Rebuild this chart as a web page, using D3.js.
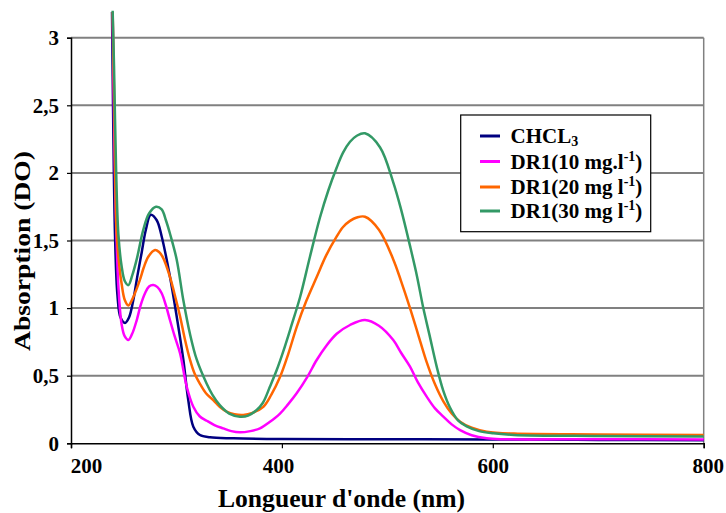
<!DOCTYPE html>
<html><head><meta charset="utf-8">
<script src="https://cdn.jsdelivr.net/npm/d3@7"></script>
<style>html,body{margin:0;padding:0;background:#fff;}svg{display:block;font-family:"Liberation Serif","Times New Roman",serif;font-weight:bold;}</style>
</head><body>
<svg id="c" width="726" height="513"></svg>
<script>
// ---- data ----
const xTicks = [200, 400, 600, 800];
const yTicks = [0, 0.5, 1, 1.5, 2, 2.5, 3];
const yTickLabels = ["0", "0,5", "1", "1,5", "2", "2,5", "3"];

const chclWl  = [238.9, 240, 241.7, 244, 247, 251.2, 255, 259.1, 263, 267, 271, 275.6, 281.3, 286, 293.9, 300.2, 306.5, 311.2, 316, 322.3, 331.8, 353.9, 400, 500, 600, 700, 800];
const chclAbs = [3.19, 2.4, 1.55, 1.1, 0.93, 0.89, 0.93, 1.06, 1.24, 1.41, 1.58, 1.69, 1.65, 1.53, 1.23, 0.94, 0.62, 0.32, 0.123, 0.061, 0.044, 0.037, 0.032, 0.03, 0.028, 0.025, 0.022];

const dr10Wl  = [239.5, 241, 242.5, 245, 248, 251, 254.4, 258, 262.3, 266, 270.2, 274, 278.1, 282, 286, 290, 293.9, 298, 303.4, 309.7, 316, 322, 328.7, 336, 344.4, 352, 360.3, 370, 379.2, 388, 398.2, 406, 414, 424, 433, 442, 452, 464.6, 478.8, 492, 505.6, 513, 521.5, 529, 537.3, 545, 553.1, 561, 569, 580, 594.2, 610, 700, 800];
const dr10Abs = [3.19, 2.3, 1.7, 1.15, 0.88, 0.79, 0.764, 0.81, 0.91, 1.02, 1.11, 1.16, 1.17, 1.155, 1.11, 1.02, 0.91, 0.8, 0.666, 0.42, 0.27, 0.2, 0.167, 0.135, 0.11, 0.09, 0.081, 0.09, 0.11, 0.155, 0.22, 0.29, 0.37, 0.49, 0.616, 0.72, 0.81, 0.875, 0.912, 0.87, 0.764, 0.67, 0.567, 0.45, 0.345, 0.26, 0.197, 0.14, 0.098, 0.06, 0.037, 0.03, 0.03, 0.028];

const dr20Wl  = [239.5, 241, 243.3, 246, 248, 251, 254.4, 259, 265.4, 269, 273.3, 279.7, 283.5, 287.5, 293.9, 298, 303.4, 308, 312.8, 317, 322.3, 328, 334.9, 341, 347.6, 355, 363.4, 372, 382.4, 390, 398.2, 406, 414, 423, 433, 442, 452, 458, 464.6, 471, 478.8, 492, 505.6, 513, 521.5, 529, 537.3, 545, 553.1, 561, 569, 580, 594.2, 620, 700, 800];
const dr20Abs = [3.19, 2.5, 1.55, 1.3, 1.18, 1.06, 1.02, 1.08, 1.21, 1.3, 1.38, 1.43, 1.415, 1.37, 1.23, 1.11, 0.94, 0.77, 0.62, 0.52, 0.44, 0.37, 0.32, 0.27, 0.234, 0.215, 0.21, 0.225, 0.27, 0.36, 0.49, 0.66, 0.86, 1.05, 1.23, 1.39, 1.53, 1.6, 1.645, 1.67, 1.676, 1.58, 1.36, 1.2, 1.0, 0.81, 0.6, 0.44, 0.31, 0.22, 0.16, 0.115, 0.086, 0.072, 0.066, 0.062];

const dr30Wl  = [239.5, 240.8, 242.7, 244.9, 248, 251, 254.4, 258, 262.3, 268.6, 274, 280.6, 286, 290, 293.9, 300.2, 306.5, 312.8, 319.2, 328.7, 334, 341.3, 350, 360.3, 368, 376.1, 382, 388.7, 395, 401.3, 409, 417.2, 426.6, 436.1, 444, 452, 458, 464.6, 471, 478.8, 493, 505.6, 513, 521.5, 528, 534.1, 540, 546.8, 553, 559.4, 567, 575.2, 587, 600.5, 620, 700, 800];
const dr30Abs = [3.2, 2.79, 2.05, 1.55, 1.31, 1.2, 1.17, 1.24, 1.36, 1.58, 1.7, 1.75, 1.73, 1.65, 1.55, 1.36, 1.06, 0.81, 0.62, 0.44, 0.36, 0.28, 0.22, 0.197, 0.205, 0.246, 0.3, 0.42, 0.54, 0.68, 0.87, 1.08, 1.38, 1.67, 1.87, 2.04, 2.15, 2.23, 2.275, 2.293, 2.19, 1.93, 1.73, 1.46, 1.24, 1.0, 0.8, 0.567, 0.39, 0.265, 0.17, 0.125, 0.09, 0.074, 0.062, 0.054, 0.05];

const seriesNames = ["CHCL3", "DR1(10 mg.l-1)", "DR1(20 mg l-1)", "DR1(30 mg l-1)"];
const seriesColors = ["#000080", "#ff00ff", "#ff6600", "#339966"];
const seriesWl = [chclWl, dr10Wl, dr20Wl, dr30Wl];
const seriesAbs = [chclAbs, dr10Abs, dr20Abs, dr30Abs];

// ---- layout ----
const svg = d3.select("#c");
const L = 71, R = 703.7, T = 37.7, B = 443.3;
const x = d3.scaleLinear().domain([200, 800]).range([L, R]);
const y = d3.scaleLinear().domain([0, 3]).range([B, T]);

// gridlines
svg.append("g").selectAll("line").data(yTicks.filter(d => d > 0)).join("line")
  .attr("x1", L).attr("x2", R).attr("y1", d => y(d)).attr("y2", d => y(d))
  .attr("stroke", "#808080").attr("stroke-width", 2);
// right border
svg.append("line").attr("x1", R).attr("x2", R).attr("y1", T).attr("y2", B)
  .attr("stroke", "#808080").attr("stroke-width", 1.5);

// axes
const xAxis = d3.axisBottom(x).tickValues(xTicks).tickSize(5).tickPadding(10).tickFormat(d3.format("d"));
const gx = svg.append("g").attr("transform", `translate(0,${B})`).call(xAxis);
gx.select(".domain").attr("stroke", "#000").attr("stroke-width", 1.5);
gx.selectAll(".tick line").attr("stroke", "#000").attr("stroke-width", 1.2);
gx.selectAll(".tick text").attr("font-family", "Liberation Serif").attr("font-weight", "bold")
  .attr("font-size", 21).attr("fill", "#000")
  .attr("dx", d => d === 200 ? 15 : (d === 400 ? -4 : (d === 800 ? 4 : 0)));

const yAxis = d3.axisLeft(y).tickValues(yTicks).tickSize(4).tickPadding(8)
  .tickFormat((d, i) => yTickLabels[i]);
const gy = svg.append("g").attr("transform", `translate(${L},0)`).call(yAxis);
gy.select(".domain").attr("stroke", "#000").attr("stroke-width", 1.5);
gy.selectAll(".tick line").attr("stroke", "#000").attr("stroke-width", 1.2);
gy.selectAll(".tick text").attr("font-family", "Liberation Serif").attr("font-weight", "bold")
  .attr("font-size", 21).attr("fill", "#000");

// series
const line = d3.line().x(d => x(d[0])).y(d => y(d[1])).curve(d3.curveCatmullRom.alpha(0.5));
seriesNames.forEach((name, i) => {
  const pts = seriesWl[i].map((w, j) => [w, seriesAbs[i][j]]);
  svg.append("path").datum(pts).attr("d", line)
    .attr("fill", "none").attr("stroke", seriesColors[i]).attr("stroke-width", 2.5)
    .attr("stroke-linejoin", "round");
});

// axis titles
svg.append("text").attr("x", 341.5).attr("y", 507).attr("text-anchor", "middle")
  .attr("font-size", 25).attr("textLength", 247).attr("lengthAdjust", "spacingAndGlyphs")
  .text("Longueur d'onde (nm)");
svg.append("text").attr("transform", "translate(29.5,251) rotate(-90)").attr("text-anchor", "middle")
  .attr("font-size", 24).attr("textLength", 200).attr("lengthAdjust", "spacingAndGlyphs")
  .text("Absorption (DO)");

// legend
const lg = svg.append("g");
lg.append("rect").attr("x", 460.7).attr("y", 115).attr("width", 190).attr("height", 116.7)
  .attr("fill", "#fff").attr("stroke", "#000").attr("stroke-width", 1.2);
const rowY = [136, 161.5, 187, 211];
const parts = [
  [["CHCL", 0], ["3", 1]],
  [["DR1(10 mg.l", 0], ["-1", 2], [")", 0]],
  [["DR1(20 mg l", 0], ["-1", 2], [")", 0]],
  [["DR1(30 mg l", 0], ["-1", 2], [")", 0]]
];
rowY.forEach((ry, i) => {
  lg.append("line").attr("x1", 480).attr("x2", 500).attr("y1", ry).attr("y2", ry)
    .attr("stroke", seriesColors[i]).attr("stroke-width", 3);
  const t = lg.append("text").attr("x", 510.5).attr("y", ry + 7).attr("font-size", 21);
  parts[i].forEach(p => {
    const ts = t.append("tspan").text(p[0]);
    if (p[1] === 1) ts.attr("font-size", 14).attr("dy", 3);
    else if (p[1] === 2) ts.attr("font-size", 14).attr("dy", -8);
    else if (p[0] === ")") ts.attr("dy", 8);
  });
});
</script>
</body></html>
